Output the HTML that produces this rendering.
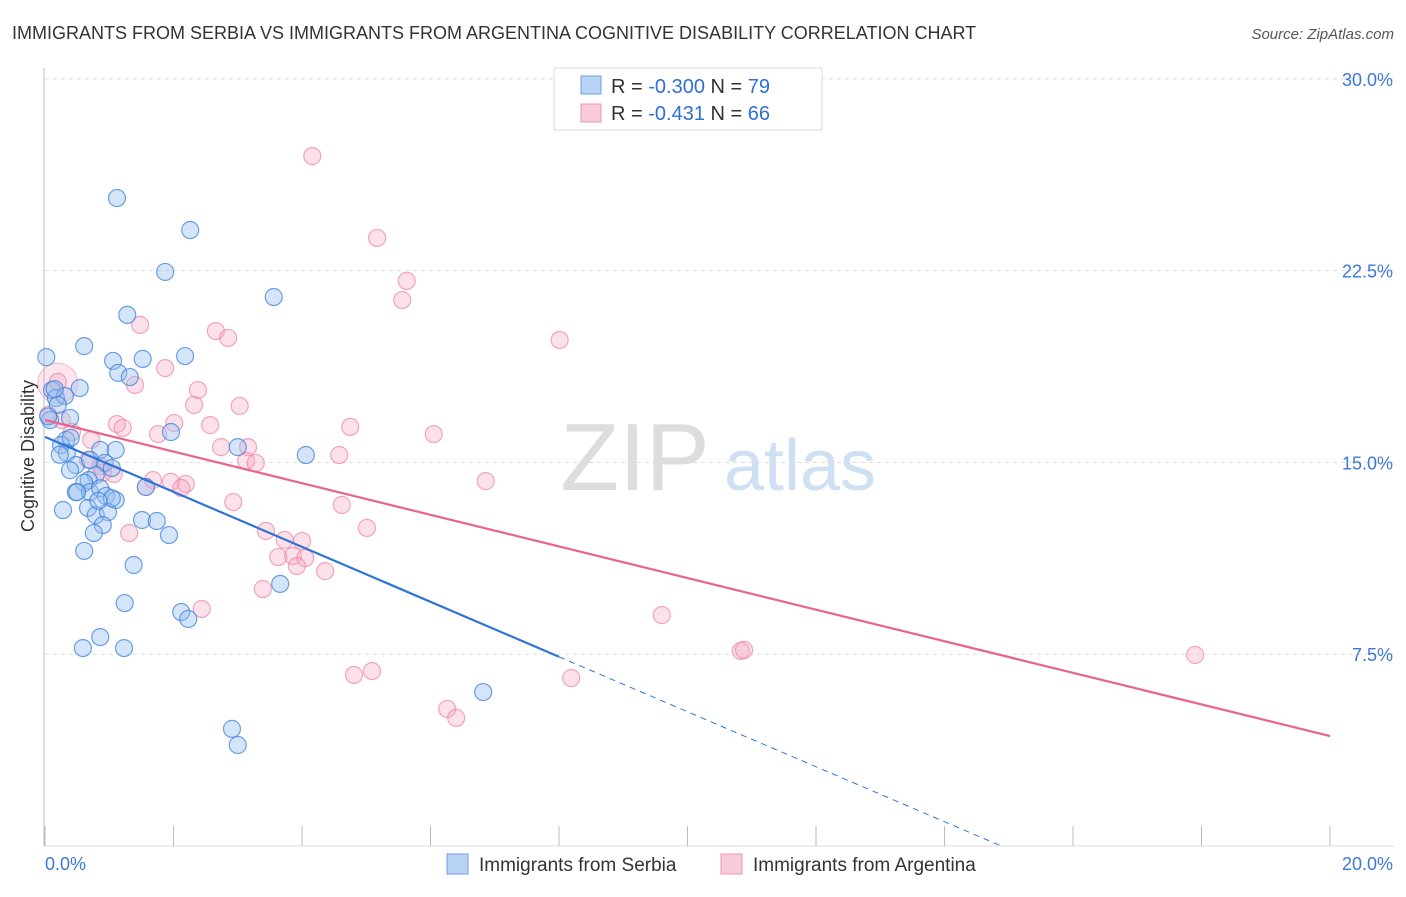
<!DOCTYPE html>
<html><head><meta charset="utf-8"><style>
body{margin:0;background:#fff;font-family:"Liberation Sans",sans-serif}
svg text{font-family:"Liberation Sans",sans-serif}
</style></head><body>
<svg id="c" width="1406" height="892" xmlns="http://www.w3.org/2000/svg">
<text x="12" y="39" font-size="18" fill="#333">IMMIGRANTS FROM SERBIA VS IMMIGRANTS FROM ARGENTINA COGNITIVE DISABILITY CORRELATION CHART</text>
<text x="1394" y="39" font-size="15" fill="#555" text-anchor="end" font-style="italic">Source: ZipAtlas.com</text>
<text x="34" y="456" font-size="18" fill="#333" text-anchor="middle" transform="rotate(-90 34 456)">Cognitive Disability</text>
<g><text x="635" y="490" font-size="96" fill="#ddd" text-anchor="middle" font-family="Liberation Serif,serif">ZIP</text><text x="800" y="490" font-size="72" fill="#cfe0f3" text-anchor="middle">atlas</text></g>
<g id="grid"></g><g id="pts"></g><g id="lines"></g>
<g>
<rect x="554" y="68" width="268" height="62" fill="#fff" stroke="#ddd"/>
<rect x="581" y="76" width="20" height="18" fill="#b8d3f3" stroke="#6a9fe0"/>
<rect x="581" y="104" width="20" height="18" fill="#f9cad8" stroke="#ee94b0"/>
<text x="611" y="93" font-size="20" fill="#333">R = <tspan fill="#2f6fd8">-0.300</tspan>   N = <tspan fill="#2f6fd8">79</tspan></text>
<text x="611" y="120" font-size="20" fill="#333">R =  <tspan fill="#2f6fd8">-0.431</tspan>   N = <tspan fill="#2f6fd8">66</tspan></text>
</g>
<g>
<rect x="447" y="854" width="21" height="20" fill="#b8d3f3" stroke="#6a9fe0"/>
<text x="479" y="871" font-size="19" fill="#333">Immigrants from Serbia</text>
<rect x="721" y="854" width="21" height="20" fill="#f9cad8" stroke="#ee94b0"/>
<text x="753" y="871" font-size="19" fill="#333">Immigrants from Argentina</text>
</g>
</svg>
<script>
const yTicks=[7.5,15,22.5,30];
const yTickLabels=["7.5%","15.0%","22.5%","30.0%"];
const xTickLabels=["0.0%","20.0%"];
const serbiaX=[1.12,2.26,1.87,3.56,1.28,0.61,1.06,1.52,2.18,0.02,1.14,1.32,0.54,0.11,0.17,0.31,0.20,0.08,0.39,0.33,0.25,0.40,0.34,0.86,1.10,3.00,4.06,0.48,0.39,0.93,1.04,0.79,0.68,0.61,0.48,0.70,0.86,0.95,1.10,0.28,0.67,0.79,0.98,1.57,0.90,0.76,1.51,1.74,1.93,0.61,1.38,1.24,2.12,2.23,0.86,0.59,1.23,3.66,1.96,6.82,2.91,3.00,0.15,0.05,0.70,1.04,0.83,0.23,0.50];
const serbiaY=[25.34,24.09,22.45,21.47,20.77,19.55,18.97,19.05,19.16,19.12,18.50,18.34,17.91,17.83,17.52,17.60,17.25,16.66,16.74,15.88,15.68,15.96,15.37,15.49,15.49,15.60,15.29,14.90,14.70,14.98,14.78,14.51,14.31,14.20,13.84,13.84,13.99,13.69,13.53,13.14,13.22,12.94,13.06,14.04,12.55,12.24,12.75,12.71,12.16,11.54,10.99,9.50,9.15,8.88,8.17,7.74,7.74,10.25,16.19,6.02,4.58,3.95,17.87,16.80,15.10,13.60,13.50,15.30,13.84];
const argX=[4.16,5.17,5.63,5.56,8.01,1.48,2.66,2.85,1.87,1.40,2.38,2.32,3.03,0.20,0.26,0.42,1.12,1.21,2.01,2.57,1.76,4.75,6.05,0.72,3.16,2.74,3.13,3.28,4.58,0.86,1.07,1.68,1.96,2.19,2.12,1.57,2.93,4.62,6.86,3.44,5.01,1.31,3.73,4.00,3.86,3.63,4.05,3.92,4.36,3.39,2.44,9.60,10.83,10.88,17.90,8.19,4.81,5.09,6.26,6.40,0.05,0.67,0.90];
const argY=[26.98,23.78,22.10,21.35,19.79,20.38,20.14,19.87,18.69,18.03,17.83,17.25,17.21,18.15,16.66,16.19,16.50,16.35,16.54,16.46,16.11,16.39,16.11,15.88,15.60,15.60,15.06,14.98,15.29,14.86,14.55,14.31,14.24,14.16,14.00,14.04,13.45,13.34,14.27,12.32,12.44,12.24,11.97,11.93,11.34,11.30,11.26,10.95,10.75,10.05,9.27,9.03,7.63,7.67,7.47,6.57,6.69,6.84,5.36,5.01,16.86,15.10,14.60];
const serbiaFit=[16.0,-1.075];
const argFit=[16.66,-0.618];
const NS="http://www.w3.org/2000/svg";
const X0=45,X1=1330,Y0=846,PY=25.57;
function sx(v){return X0+(X1-X0)*v/20;}
function sy(v){return Y0-v*PY;}
function mk(t,a,p){const e=document.createElementNS(NS,t);for(const k in a)e.setAttribute(k,a[k]);p.appendChild(e);return e;}
const g=document.getElementById('grid');
yTicks.forEach((t,i)=>{
  const l=mk('line',{x1:X0,x2:1394,y1:sy(t),y2:sy(t),stroke:'#ddd','stroke-dasharray':'4,4'},g);
  
  
  const tx=mk('text',{x:1393,y:sy(t)+7,'font-size':18,fill:'#3b78d8','text-anchor':'end'},g);
  tx.textContent=yTickLabels[i];
  
  
});
mk('line',{x1:44,x2:44,y1:68,y2:Y0,stroke:'#bbb'},g);
mk('line',{x1:44,x2:1394,y1:Y0,y2:Y0,stroke:'#ddd'},g);
for(let i=0;i<=10;i++){const l=mk('line',{x1:sx(i*2),x2:sx(i*2),y1:826,y2:Y0,stroke:'#bbb'},g);
  
  }
const t0=mk('text',{x:45,y:870,'font-size':18,fill:'#3b78d8'},g);t0.textContent=xTickLabels[0];


const t1=mk('text',{x:1393,y:870,'font-size':18,fill:'#3b78d8','text-anchor':'end'},g);t1.textContent=xTickLabels[1];


const p=document.getElementById('pts');
const big=mk('circle',{cx:sx(0.2),cy:sy(18.1),r:20,fill:'rgba(246,170,195,0.3)',stroke:'rgba(236,130,165,0.5)'},p);


argX.forEach((x,i)=>{const c=mk('circle',{cx:sx(x),cy:sy(argY[i]),r:8.5,fill:'rgba(246,170,195,0.35)',stroke:'rgba(236,130,165,0.7)','stroke-width':1.2},p);
  
  });
serbiaX.forEach((x,i)=>{const c=mk('circle',{cx:sx(x),cy:sy(serbiaY[i]),r:8.5,fill:'rgba(150,190,240,0.4)',stroke:'rgba(60,130,220,0.75)','stroke-width':1.2},p);
  
  });
const L=document.getElementById('lines');
const f=(a,x)=>a[0]+a[1]*x;
const bl=mk('line',{x1:sx(0),y1:sy(f(serbiaFit,0)),x2:sx(8),y2:sy(f(serbiaFit,8)),stroke:'#2f74d8','stroke-width':2.2},L);


const xe=-serbiaFit[0]/serbiaFit[1];
const bd=mk('line',{x1:sx(8),y1:sy(f(serbiaFit,8)),x2:sx(xe),y2:sy(0),stroke:'#2f74d8','stroke-width':1,'stroke-dasharray':'6,5'},L);


const pl=mk('line',{x1:sx(0),y1:sy(f(argFit,0)),x2:sx(20),y2:sy(f(argFit,20)),stroke:'#e8638f','stroke-width':2.2},L);


</script>
</body></html>
